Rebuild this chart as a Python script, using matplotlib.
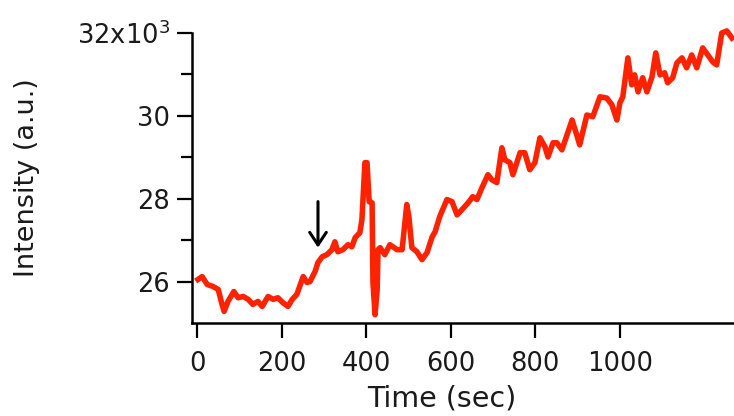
import matplotlib
matplotlib.use("Agg")
import matplotlib.pyplot as plt
from matplotlib.ticker import FixedLocator, FixedFormatter

# Intensity trace (time in sec, intensity in units of 10^3 a.u.)
time_sec = [2, 12, 24, 38, 50, 59, 64, 73, 87, 97, 109, 121, 132, 144, 154,
            168, 180, 191, 203, 215, 225, 236, 251, 260, 267, 279, 286, 296,
            307, 319, 326, 333, 345, 357, 366, 374, 385, 390, 397, 402, 407,
            414, 416, 421, 426, 428, 433, 444, 456, 473, 485, 496, 501, 508,
            520, 532, 544, 556, 563, 574, 591, 603, 615, 626, 641, 652, 662,
            674, 688, 697, 709, 721, 728, 740, 747, 764, 775, 787, 799, 811,
            823, 830, 842, 851, 863, 875, 887, 898, 905, 922, 936, 953, 969,
            981, 993, 1000, 1007, 1019, 1028, 1035, 1043, 1054, 1064, 1076,
            1085, 1095, 1106, 1113, 1125, 1135, 1147, 1158, 1170, 1182, 1196,
            1208, 1220, 1229, 1241, 1253, 1265]
intensity = [26.05, 26.12, 25.93, 25.88, 25.81, 25.45, 25.28, 25.52, 25.76,
             25.61, 25.64, 25.57, 25.45, 25.52, 25.40, 25.64, 25.57, 25.61,
             25.49, 25.40, 25.57, 25.69, 26.12, 25.98, 26.00, 26.24, 26.46,
             26.60, 26.65, 26.77, 26.96, 26.72, 26.77, 26.89, 26.84, 27.06,
             27.18, 27.50, 28.87, 28.87, 27.93, 27.90, 25.98, 25.20, 25.81,
             26.77, 26.82, 26.65, 26.89, 26.77, 26.77, 27.86, 27.57, 26.82,
             26.72, 26.53, 26.70, 27.08, 27.20, 27.57, 27.98, 27.93, 27.61,
             27.73, 27.90, 28.05, 27.98, 28.27, 28.58, 28.46, 28.39, 29.23,
             28.94, 28.87, 28.58, 29.11, 29.11, 28.70, 28.87, 29.47, 29.25,
             29.01, 29.35, 29.35, 29.18, 29.54, 29.90, 29.54, 29.30, 30.02,
             29.98, 30.46, 30.43, 30.27, 29.90, 30.31, 30.46, 31.40, 30.75,
             30.99, 30.58, 30.92, 30.58, 30.94, 31.52, 30.99, 31.04, 30.80,
             30.92, 31.28, 31.40, 31.16, 31.47, 31.16, 31.64, 31.47, 31.30,
             31.23, 32.00, 32.05, 31.88]

x_ticks = [0, 200, 400, 600, 800, 1000]
y_ticks = [26, 28, 30, 32]
y_tick_labels = ["26", "28", "30", "32x10$^{3}$"]
y_minor = [27, 29, 31]

# arrow marking the onset
arrow_t = 286
arrow_from = 27.93
arrow_to = 26.82

plt.rcParams["font.family"] = "DejaVu Sans"
plt.rcParams["mathtext.default"] = "regular"

fig = plt.figure(figsize=(7.34, 4.16), dpi=100)
ax = fig.add_axes([192 / 734, 93 / 416, 542 / 734, 290 / 416])

ax.plot(time_sec, intensity, color="#ff2200", lw=4.0,
        solid_joinstyle="round", clip_on=False)

ax.annotate("", xy=(arrow_t, arrow_to), xytext=(arrow_t, arrow_from),
            arrowprops=dict(arrowstyle="->, head_length=0.45, head_width=0.3",
                            color="black", lw=2.2, mutation_scale=20,
                            shrinkA=0, shrinkB=0))

ax.set_xlim(-12, 1270)
ax.set_ylim(25.0, 32.0)

for side in ["top", "right"]:
    ax.spines[side].set_visible(False)
for side in ["left", "bottom"]:
    ax.spines[side].set_linewidth(1.8)

ax.xaxis.set_major_locator(FixedLocator(x_ticks))
ax.yaxis.set_major_locator(FixedLocator(y_ticks))
ax.yaxis.set_major_formatter(FixedFormatter(y_tick_labels))
ax.yaxis.set_minor_locator(FixedLocator(y_minor))

ax.tick_params(axis="both", which="major", direction="out", length=11,
               width=1.6, labelsize=18.5, colors="black", labelcolor="#1a1a1a")
ax.tick_params(axis="y", which="minor", direction="out", length=8, width=1.6)
ax.tick_params(axis="x", pad=9)
ax.tick_params(axis="y", pad=5)

ax.set_xlabel("Time (sec)", fontsize=20.5, color="#1a1a1a")
ax.set_ylabel("Intensity (a.u.)", fontsize=19.5, color="#1a1a1a")
ax.xaxis.set_label_coords(0.461, -0.212)
ax.yaxis.set_label_coords(-0.280, 0.5)

fig.savefig("out.png", dpi=100)
